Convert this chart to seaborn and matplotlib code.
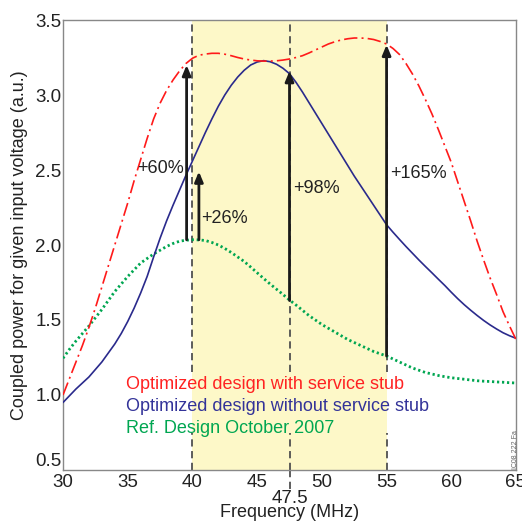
import numpy as np
import pandas as pd
import matplotlib
matplotlib.use("Agg")
import matplotlib.pyplot as plt
import seaborn as sns

# frequencies (MHz), curves every 0.5 MHz
freq = [30 + 0.5 * i for i in range(71)]

# Optimized design with service stub (red, dash-dot)
with_stub = [1.00, 1.11, 1.22, 1.33, 1.45, 1.58, 1.72, 1.86, 2.00, 2.14,
             2.28, 2.43, 2.57, 2.71, 2.84, 2.945, 3.03, 3.10, 3.16, 3.21,
             3.245, 3.265, 3.273, 3.278, 3.278, 3.272, 3.262, 3.25, 3.24, 3.233,
             3.228, 3.226, 3.226, 3.228, 3.233, 3.24, 3.25, 3.262, 3.28, 3.30,
             3.32, 3.34, 3.355, 3.367, 3.375, 3.38, 3.38, 3.377, 3.37, 3.357,
             3.34, 3.31, 3.27, 3.21, 3.14, 3.06, 2.97, 2.875, 2.77, 2.66,
             2.55, 2.42, 2.29, 2.16, 2.025, 1.90, 1.78, 1.67, 1.555, 1.46,
             1.37]

# Optimized design without service stub (blue, solid)
without_stub = [0.95, 0.995, 1.04, 1.08, 1.12, 1.17, 1.22, 1.28, 1.34, 1.41,
                1.49, 1.58, 1.68, 1.79, 1.92, 2.045, 2.16, 2.265, 2.365, 2.465,
                2.56, 2.655, 2.75, 2.84, 2.925, 3.00, 3.065, 3.12, 3.165, 3.20,
                3.22, 3.229, 3.222, 3.205, 3.178, 3.142, 3.085, 3.02, 2.95, 2.88,
                2.81, 2.74, 2.67, 2.60, 2.53, 2.46, 2.395, 2.33, 2.265, 2.20,
                2.135, 2.085, 2.037, 1.99, 1.945, 1.90, 1.857, 1.815, 1.772, 1.73,
                1.685, 1.642, 1.602, 1.565, 1.53, 1.497, 1.467, 1.44, 1.415, 1.395,
                1.378]

# Ref. design October 2007 (green, dotted)
ref_design = [1.245, 1.305, 1.36, 1.41, 1.46, 1.515, 1.57, 1.63, 1.69, 1.74,
              1.79, 1.835, 1.88, 1.91, 1.94, 1.965, 1.99, 2.01, 2.025, 2.032,
              2.035, 2.034, 2.03, 2.017, 2.00, 1.977, 1.95, 1.92, 1.89, 1.853,
              1.815, 1.777, 1.74, 1.705, 1.67, 1.633, 1.60, 1.565, 1.53, 1.50,
              1.47, 1.445, 1.42, 1.395, 1.37, 1.35, 1.33, 1.31, 1.29, 1.275,
              1.26, 1.24, 1.22, 1.20, 1.18, 1.165, 1.15, 1.14, 1.13, 1.122,
              1.115, 1.11, 1.105, 1.10, 1.095, 1.092, 1.09, 1.087, 1.085, 1.082,
              1.08]

# improvement arrows: x position, start, end, label, label position
arrow_x = [39.55, 40.5, 47.5, 55.0]
arrow_from = [2.035, 2.035, 1.63, 1.26]
arrow_to = [3.20, 2.49, 3.16, 3.335]
arrow_text = ["+60%", "+26%", "+98%", "+165%"]
text_x = [39.35, 40.65, 47.8, 55.3]
text_y = [2.51, 2.18, 2.38, 2.48]

band = (40, 55)
marker_freqs = [40, 47.5, 55]

legend_labels = ["Optimized design with service stub",
                 "Optimized design without service stub",
                 "Ref. Design October 2007"]
legend_colors = ["#ff2222", "#333399", "#00a651"]

sns.set_style("white")
plt.rcParams['font.family'] = ['Liberation Sans', 'DejaVu Sans']

fig = plt.figure(figsize=(5.22, 5.21), dpi=100)
ax = fig.add_axes([0.1207, 0.0979, 0.8678, 0.8637])

ax.axvspan(band[0], band[1], color="#fdf8c8", zorder=0, lw=0)
# dashed markers, broken where the legend text block sits
dash = dict(color="#505050", lw=1.3, ls=(0, (4, 2.5)), zorder=1)
for f in marker_freqs:
    ax.axvline(f, ymin=0.218, ymax=1, **dash)
    ax.axvline(f, ymin=0, ymax=0.082, **dash)
# the 47.5 marker runs down to its own label under the axis
ax.plot([47.5, 47.5], [0, -0.045], transform=ax.get_xaxis_transform(),
        clip_on=False, **dash)

df = pd.DataFrame({"freq": freq, "with": with_stub,
                   "without": without_stub, "ref": ref_design})
sns.lineplot(data=df, x="freq", y="ref", ax=ax, color="#00a651", lw=2.0,
             linestyle=(0, (0.8, 1.0)), zorder=3)
sns.lineplot(data=df, x="freq", y="without", ax=ax, color="#2a2a8c", lw=1.2,
             zorder=3)
sns.lineplot(data=df, x="freq", y="with", ax=ax, color="#ff1a1a", lw=1.2,
             linestyle=(0, (8, 2.5, 1.2, 2.5)), zorder=3)

for xa, y0, y1, t, tx, ty in zip(arrow_x, arrow_from, arrow_to, arrow_text, text_x, text_y):
    ax.annotate("", xy=(xa, y1), xytext=(xa, y0),
                arrowprops=dict(arrowstyle="-|>,head_length=0.6,head_width=0.25",
                                color="#1a1a1a", lw=2.0, shrinkA=0, shrinkB=0),
                zorder=4)
    ax.text(tx, ty, t, ha="right" if tx < xa else "left", va="center",
            fontsize=13, color="#222222", zorder=5)

for i, (lab, col) in enumerate(zip(legend_labels, legend_colors)):
    ax.text(34.87, 1.067 - i * 0.145, lab, color=col, fontsize=13,
            ha="left", va="center", zorder=5)

yticks = [0.5, 1.0, 1.5, 2.0, 2.5, 3.0, 3.5]
ax.set_xlim(30, 65)
ax.set_ylim(0.5, 3.5)
ax.set_xticks([30, 35, 40, 45, 50, 55, 60, 65])
ax.set_yticks(yticks)
ax.set_yticklabels([f"{v:.1f}" for v in yticks])
ax.get_yticklabels()[0].set_va("bottom")
ax.tick_params(direction="in", length=7.5, width=1, color="black",
               labelsize=13.5, labelcolor="#222222", pad=3)
ax.tick_params(axis="y", pad=1)
ax.text(47.5, -0.063, "47.5", transform=ax.get_xaxis_transform(),
        ha="center", va="center", fontsize=13.5, color="#222222")

ax.set_xlabel("Frequency (MHz)", fontsize=13, color="#222222", labelpad=9)
ax.set_ylabel("Coupled power for given input voltage (a.u.)", fontsize=13,
              color="#222222", labelpad=5)

for s in ax.spines.values():
    s.set_color("#888888")
    s.set_linewidth(1.0)

fig.text(0.995, 0.1, "IC08 222 Fa", rotation=90, fontsize=5,
         color="#666666", ha="right", va="bottom")

fig.savefig("out.png", dpi=100)
